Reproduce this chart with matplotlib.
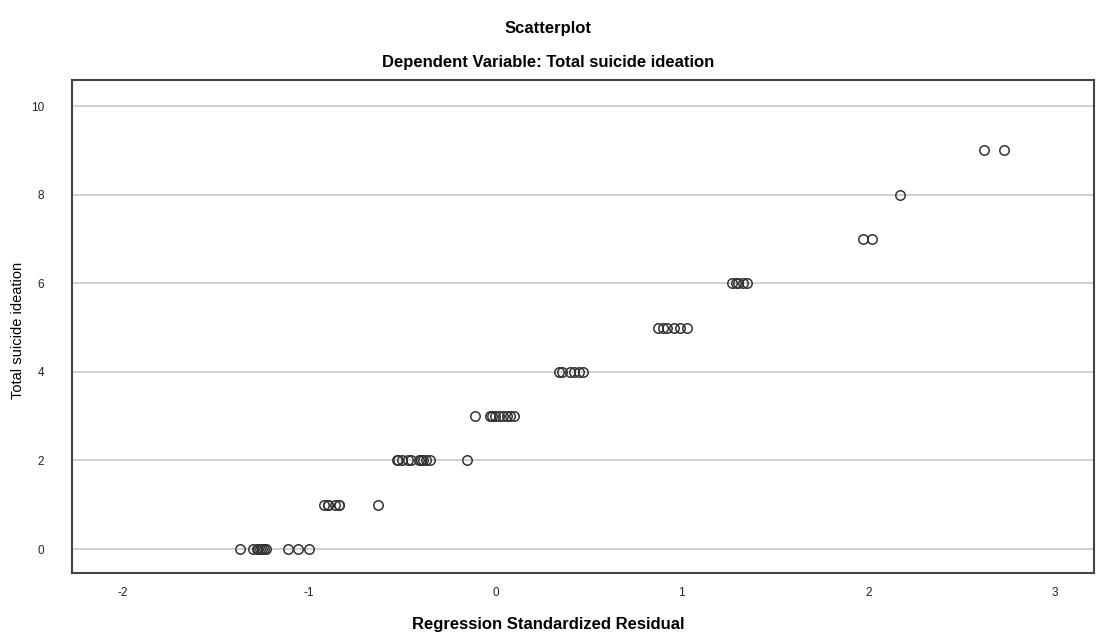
import matplotlib.pyplot as plt

plt.rcParams['font.family'] = ['Liberation Sans', 'DejaVu Sans']

# standardized residuals per score level
res_0 = [-1.37, -1.30, -1.28, -1.27, -1.26, -1.25, -1.24, -1.23, -1.11, -1.06, -1.00]
res_1 = [-0.92, -0.90, -0.90, -0.86, -0.84, -0.84, -0.63]
res_2 = [-0.53, -0.52, -0.50, -0.47, -0.45, -0.41, -0.40, -0.39, -0.37, -0.35, -0.15]
res_3 = [-0.11, -0.03, -0.02, 0.00, 0.02, 0.04, 0.06, 0.08, 0.10]
res_4 = [0.34, 0.36, 0.40, 0.42, 0.45, 0.47]
res_5 = [0.87, 0.90, 0.92, 0.96, 0.99, 1.03]
res_6 = [1.27, 1.29, 1.30, 1.33, 1.35]
res_7 = [1.97, 2.02]
res_8 = [2.17]
res_9 = [2.62, 2.73]

levels = [0, 1, 2, 3, 4, 5, 6, 7, 8, 9]
residuals = [res_0, res_1, res_2, res_3, res_4, res_5, res_6, res_7, res_8, res_9]

x_ticks = [-2, -1, 0, 1, 2, 3]
y_ticks = [0, 2, 4, 6, 8, 10]

fig = plt.figure(figsize=(10.97, 6.41), dpi=100)
ax = fig.add_axes([72 / 1097, 1 - 573 / 641, 1022 / 1097, 493 / 641])

for lvl, res in zip(levels, residuals):
    ax.plot(res, [lvl] * len(res), linestyle='none', marker='o', markersize=6.8,
            markerfacecolor='none', markeredgecolor='#333333', markeredgewidth=1.1)

ax.set_xlim(-2.27, 3.21)
ax.set_ylim(-0.54, 10.59)
ax.set_xticks(x_ticks)
ax.set_yticks(y_ticks)
ax.set_xticklabels([str(t) for t in x_ticks])
ax.tick_params(length=0, labelsize=8.5, colors='#222222', pad=10)
ax.tick_params(axis='y', pad=20)
ax.yaxis.grid(True, color='#c8c8c8', linewidth=1.2)
ax.set_axisbelow(True)
for sp in ax.spines.values():
    sp.set_color('#444444')
    sp.set_linewidth(1.5)

narrow = ['Liberation Sans Narrow', 'Liberation Sans']
fig.text(18 / 1097, 1 - 330 / 641, 'Total suicide ideation', rotation=90,
         ha='center', va='center', fontsize=10.5, family=narrow)
fig.text(0.5, 1 - 624 / 641, 'Regression Standardized Residual', ha='center',
         va='center', fontsize=12, fontweight='bold', family=narrow)

fig.text(0.5, 1 - 28 / 641, 'Scatterplot', ha='center', va='center',
         fontsize=12, fontweight='bold')
fig.text(0.5, 1 - 63 / 641, 'Dependent Variable: Total suicide ideation',
         ha='center', va='center', fontsize=12, fontweight='bold')

fig.savefig('out.png', dpi=100)
